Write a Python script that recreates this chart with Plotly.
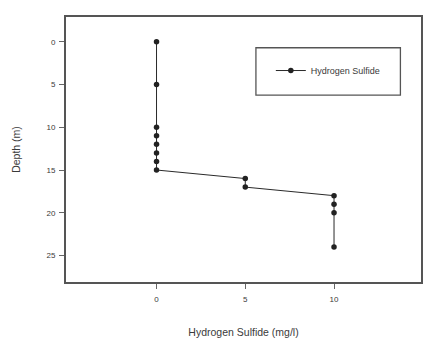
import plotly.graph_objects as go

# Hydrogen sulfide profile with depth
depth_m = [0, 5, 10, 11, 12, 13, 14, 15, 16, 17, 18, 19, 20, 24]
h2s_mg_l = [0, 0, 0, 0, 0, 0, 0, 0, 5, 5, 10, 10, 10, 10]

x_ticks = [0, 5, 10]
x_tick_labels = ["0", "5", "10"]
y_ticks = [0, 5, 10, 15, 20, 25]
y_tick_labels = ["0", "5", "10", "15", "20", "25"]

ink = "#3a3a3a"
family = "Liberation Sans, Arial, sans-serif"
tick_font = dict(family=family, size=8, color=ink)
title_font = dict(family=family, size=10.5, color=ink)

fig = go.Figure()
fig.add_trace(go.Scatter(
    x=h2s_mg_l, y=depth_m,
    mode="lines+markers",
    name="Hydrogen Sulfide",
    line=dict(color="#2a2a2a", width=1),
    marker=dict(symbol="circle", size=5.5, color="#222222"),
))

axis_common = dict(
    showgrid=False, zeroline=False,
    showline=True, linecolor="#555555", linewidth=1.8, mirror=True,
    ticks="outside", ticklen=5, tickcolor="#666666", tickwidth=1,
    tickfont=tick_font,
)

fig.update_layout(
    width=425, height=339,
    margin=dict(l=66, r=2, t=17, b=55),
    paper_bgcolor="white", plot_bgcolor="white",
    font=tick_font,
    showlegend=True,
    legend=dict(
        x=0.577, y=0.798, xanchor="left", yanchor="middle",
        bgcolor="rgba(0,0,0,0)", borderwidth=0,
        font=dict(family=family, size=9, color=ink),
        itemwidth=30,
    ),
    xaxis=dict(
        range=[-5.1, 14.9],
        tickvals=x_ticks, ticktext=x_tick_labels,
        ticklabelstandoff=3,
        title=dict(text="Hydrogen Sulfide (mg/l)", standoff=26, font=title_font),
        **axis_common,
    ),
    yaxis=dict(
        range=[28.1, -2.9],
        tickvals=y_ticks, ticktext=y_tick_labels,
        ticklabelstandoff=2,
        title=dict(text="Depth (m)", standoff=24, font=title_font),
        **axis_common,
    ),
    shapes=[dict(
        type="rect", xref="paper", yref="paper",
        x0=0.535, x1=0.942, y0=0.705, y1=0.884,
        line=dict(color="#555555", width=1.3),
    )],
)

fig.write_html("out.html")
